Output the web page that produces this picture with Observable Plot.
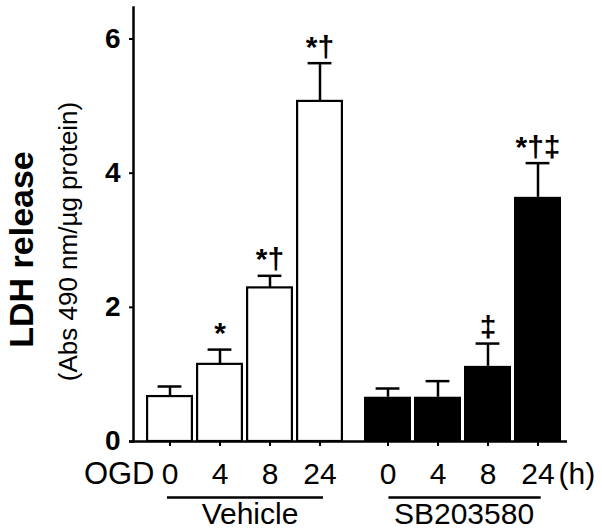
<!DOCTYPE html>
<html><head><meta charset="utf-8">
<script src="https://cdn.jsdelivr.net/npm/d3@7"></script>
<script src="https://cdn.jsdelivr.net/npm/@observablehq/plot@0.6"></script>
<style>
html,body{margin:0;padding:0;background:#fff;}
#chart svg{display:block;}
</style></head><body><div id="chart"></div>
<script>
// ---- data ----
const groups = ["Vehicle", "SB203580"];
const ogdHours = ["0", "4", "8", "24"];
const vehicleMean = [0.67, 1.15, 2.29, 5.07];
const vehicleErr  = [0.15, 0.22, 0.18, 0.57];
const sbMean      = [0.66, 0.66, 1.12, 3.64];
const sbErr       = [0.13, 0.24, 0.34, 0.51];
const vehicleNotes = ["", "*", "*†", "*†"];
const sbNotes      = ["", "", "‡", "*†‡"];
const yTicks = [0, 2, 4, 6];
const yTitle = "LDH release";
const ySubtitle = "(Abs 490 nm/µg protein)";

// ---- build table ----
const rows = [];
groups.forEach((g, gi) => {
  const m = gi === 0 ? vehicleMean : sbMean;
  const e = gi === 0 ? vehicleErr : sbErr;
  const n = gi === 0 ? vehicleNotes : sbNotes;
  ogdHours.forEach((t, i) => rows.push({group: g, ogd: t, key: g + " " + t, mean: m[i], err: e[i], upper: m[i] + e[i], note: n[i]}));
});
const veh = rows.filter(d => d.group === groups[0]);
const sb = rows.filter(d => d.group === groups[1]);
const vehLine = [{x1: veh[0].key, x2: veh[veh.length - 1].key}];
const sbLine = [{x1: sb[0].key, x2: sb[sb.length - 1].key}];
const GAP = 18;
const FONT = "'Liberation Sans', Arial, Helvetica, sans-serif";
const LBL = 30;

const chart = Plot.plot({
  width: 602, height: 532,
  marginLeft: 133, marginRight: 35, marginTop: 7, marginBottom: 91,
  style: {fontFamily: FONT, color: "#000", background: "#fff", overflow: "visible"},
  x: {type: "band", domain: rows.map(d => d.key), range: [143.15, 545.55], paddingInner: 0.06, paddingOuter: 0.03, axis: null},
  y: {domain: [0, 6.47], axis: null},
  marks: [
    // bars
    Plot.barY(veh, {x: "key", y: "mean", fill: "white", stroke: "black", strokeWidth: 2.2, insetLeft: 1.1, insetRight: 1.1}),
    Plot.barY(sb, {x: "key", y: "mean", fill: "black", dx: GAP}),
    // error bars
    Plot.ruleX(veh, {x: "key", y1: "mean", y2: "upper", stroke: "black", strokeWidth: 2.5}),
    Plot.ruleX(sb, {x: "key", y1: "mean", y2: "upper", stroke: "black", strokeWidth: 2.5, dx: GAP}),
    Plot.tickY(veh, {x: "key", y: "upper", stroke: "black", strokeWidth: 2.5, insetLeft: 11.6, insetRight: 11.6}),
    Plot.tickY(sb, {x: "key", y: "upper", stroke: "black", strokeWidth: 2.5, insetLeft: 11.6, insetRight: 11.6, dx: GAP}),
    // significance marks
    Plot.text(veh, {x: "key", y: "upper", text: "note", dy: -16, fontSize: 30, fontWeight: "bold"}),
    Plot.text(sb, {x: "key", y: "upper", text: "note", dy: -16, fontSize: 30, fontWeight: "bold", dx: GAP}),
    // axes
    Plot.frame({anchor: "left", stroke: "black", strokeWidth: 2.5}),
    Plot.ruleY([0], {stroke: "black", strokeWidth: 2.5, insetLeft: -4}),
    Plot.axisY({ticks: yTicks, tickFormat: d => String(d), tickSize: 4, tickPadding: 9, fontSize: 28, fontWeight: "bold", strokeWidth: 2, label: null}),
    // x ticks & labels
    Plot.ruleX(veh, {x: "key", y1: 0, y2: 0, insetBottom: -5, stroke: "black", strokeWidth: 2}),
    Plot.ruleX(sb, {x: "key", y1: 0, y2: 0, insetBottom: -5, stroke: "black", strokeWidth: 2, dx: GAP}),
    Plot.text(veh, {x: "key", y: 0, text: "ogd", dy: 33, fontSize: LBL}),
    Plot.text(sb, {x: "key", y: 0, text: "ogd", dy: 33, fontSize: LBL, dx: GAP}),
    Plot.text(["OGD"], {frameAnchor: "bottom-left", textAnchor: "end", lineAnchor: "middle", dx: 21, dy: 33, fontSize: 31}),
    Plot.text(["(h)"], {frameAnchor: "bottom-right", textAnchor: "start", lineAnchor: "middle", dx: -9, dy: 33, fontSize: LBL}),
    // group underlines & labels
    Plot.ruleY(vehLine, {x1: "x1", x2: "x2", y: 0, dy: 56, insetLeft: 21, insetRight: 20, stroke: "black", strokeWidth: 2.5}),
    Plot.ruleY(sbLine, {x1: "x1", x2: "x2", y: 0, dy: 56, insetLeft: 24.4, insetRight: 20.3, stroke: "black", strokeWidth: 2.5, dx: GAP}),
    Plot.text([veh[1]], {x: "key", y: 0, text: "group", dx: 30, dy: 73, fontSize: 30}),
    Plot.text([sb[1]], {x: "key", y: 0, text: "group", dx: GAP + 26, dy: 73, fontSize: 30}),
    // y titles
    Plot.text([yTitle], {frameAnchor: "left", textAnchor: "middle", lineAnchor: "middle", rotate: -90, dx: -111, dy: 25, fontSize: 34, fontWeight: "bold"}),
    Plot.text([ySubtitle], {frameAnchor: "left", textAnchor: "middle", lineAnchor: "middle", rotate: -90, dx: -65, dy: 17, fontSize: 26})
  ]
});
document.getElementById("chart").appendChild(chart);
</script>
</body></html>
